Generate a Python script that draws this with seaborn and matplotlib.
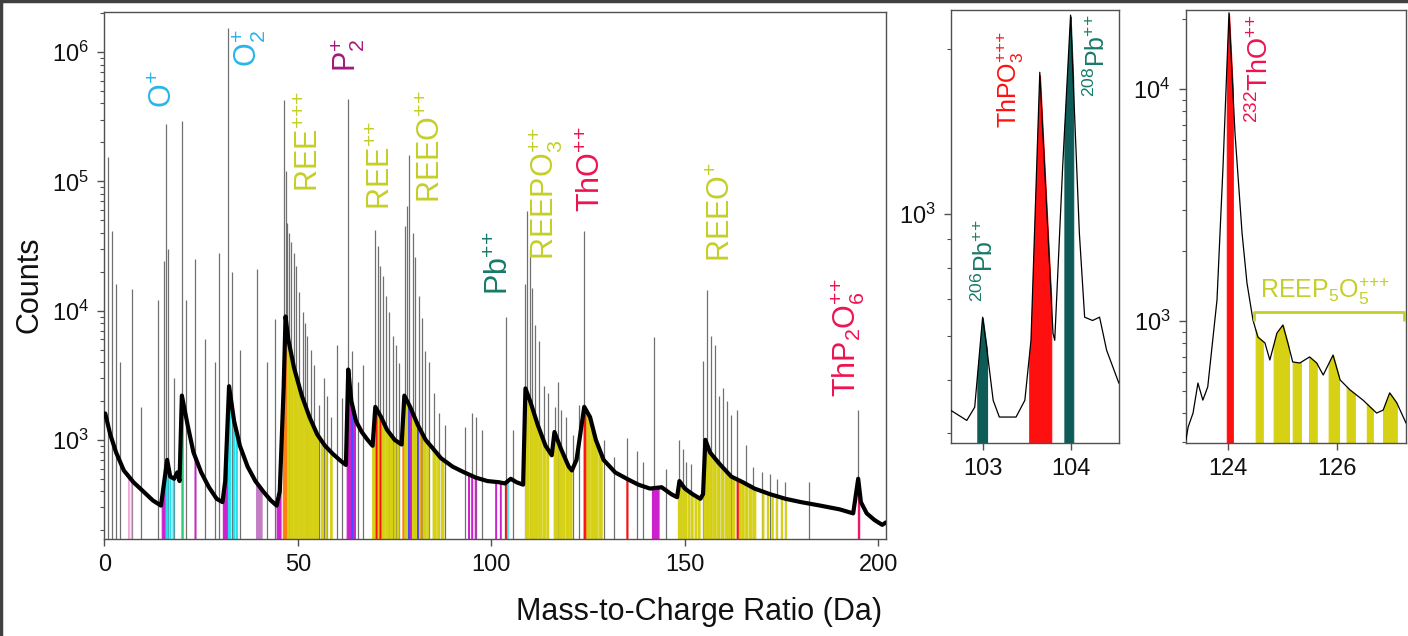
import numpy as np
import pandas as pd
import matplotlib
matplotlib.use("Agg")
import matplotlib.pyplot as plt
from matplotlib.ticker import FixedLocator, FixedFormatter, LogLocator, NullFormatter
from matplotlib.lines import Line2D
import seaborn as sns

# ---------------- data: full spectrum (background trace) ----------------
bg_mz = [0.2, 1.5, 3, 5, 7.5, 10, 12.5, 14.6,
         15.2, 16.2, 17, 18, 18.8, 19.4,
         20.0, 21.5, 23, 25, 27, 29, 30.5,
         31.2, 32.2, 33.5, 35, 37, 39, 41, 43, 44.5,
         45.3, 46.3, 46.8, 47.5, 49, 51, 53, 55, 57, 59, 61, 62.4,
         63.0, 63.8, 65, 66.5, 68, 69.3,
         70.0, 71.5, 73, 75, 76.8,
         77.5, 79, 81, 83, 85, 87, 90, 93, 96, 99, 102, 103.5, 105, 106.5, 108.2,
         108.8, 110, 112, 114, 115.6,
         116.3, 118, 120, 120.8,
         122, 124.0, 125.5, 127, 129, 132, 135, 138, 141, 144, 146.5, 148,
         148.6, 150, 152, 154, 154.7,
         155.3, 156.5, 159, 162, 165, 168, 172, 176, 180, 185, 190, 193.5,
         194.8, 195.5, 197, 199, 201, 202]
bg_counts = [1600, 1100, 800, 580, 470, 400, 340, 310,
             420, 700, 520, 500, 560, 480,
             2200, 1300, 800, 560, 430, 350, 330,
             480, 2600, 1400, 900, 620, 480, 400, 340, 310,
             400, 2500, 9000, 6000, 3600, 2200, 1500, 1100, 900, 780, 690, 640,
             3500, 2000, 1400, 1150, 1000, 900,
             1800, 1500, 1200, 1000, 920,
             2200, 1800, 1300, 1000, 850, 720, 620, 560, 510, 480, 470, 460, 500, 470, 450,
             2500, 2000, 1300, 900, 760,
             1150, 850, 620, 580,
             700, 1800, 1500, 1000, 700, 560, 500, 450, 420, 430, 380, 360,
             480, 420, 380, 350, 380,
             1000, 800, 650, 520, 470, 420, 380, 350, 330, 310, 290, 270,
             500, 330, 270, 240, 220, 230]

# peak apex positions and heights
peak_mz = [0.9, 1.9, 2.9, 4.0, 7.1, 9.5, 13.9, 15.5, 15.9, 16.5, 18.0, 20.0, 21.0, 23.4,
           26.0, 28.5, 29.6, 32.0, 33.0, 35.0, 39.3, 42.0, 44.1,
           46.4, 46.9, 47.3, 47.8, 48.3, 48.9, 49.5, 50.3, 51.2, 51.8, 52.4, 53.3, 54.2,
           55.5, 56.7, 57.5, 58.5, 60.1, 61.4,
           63.0, 64.0, 65.5, 66.9,
           70.0, 70.6, 71.3, 71.9, 72.8, 73.6, 74.5, 75.4, 76.2,
           77.7, 78.3, 78.8, 79.7, 80.3, 81.2, 82.0, 82.9, 83.8, 85.1, 86.5, 88.0,
           93.2, 95.0, 95.9, 97.5, 103.8, 105.5,
           108.7, 109.2, 110.0, 110.6, 111.3, 112.4, 113.5, 114.6, 116.5, 117.3, 118.1,
           119.4, 121.0, 122.6, 124.0,
           129.0, 131.6, 135.0, 137.6, 139.3, 142.0, 145.0,
           148.6, 149.4, 150.4, 151.7, 154.8, 155.8, 156.7, 157.9, 158.9, 159.8, 160.8,
           161.9, 163.4, 165.8, 167.7, 169.9, 172.0, 173.7, 176.0, 182.2, 194.8]
peak_counts = [153000, 41000, 16000, 4000, 14700, 1800, 12000, 24000, 276000, 30000, 3000,
               295000, 12000, 25000,
               6000, 4000, 28000, 1530000, 20000, 5000, 21000, 4000, 8600,
               428000, 120000, 48000, 40000, 34000, 28000, 22000, 14000, 9700, 8000, 6400,
               5000, 3800, 1850, 3000, 2200, 1500, 5400, 2100,
               430000, 4900, 2800, 3800,
               42000, 31500, 22000, 18500, 13000, 9700, 6400, 5400, 3900,
               45000, 65000, 160000, 40000, 26000, 13000, 8800, 4900, 4000, 2300, 1600, 1300,
               1250, 1600, 1500, 1200, 9000, 1200,
               16000, 59000, 30000, 15000, 7700, 5800, 2600, 2300, 1800, 2800, 1700,
               1500, 1100, 1850, 41000,
               1000, 740, 1030, 820, 680, 6200, 600,
               1000, 850, 680, 650, 4100, 14500, 6400, 5400, 2200, 2500, 2000,
               1550, 1700, 920, 620, 560, 540, 500, 470, 470, 1700]

# ranged ions of the full spectrum (lower, upper mass bound)
ranges_ree = [(46.9, 47.6), (47.8, 48.6), (48.8, 49.9), (50.1, 51.3), (51.5, 52.4),
              (52.6, 53.6), (53.8, 55.2), (55.9, 56.5), (57.0, 57.4), (58.3, 58.7),
              (69.2, 70.0), (70.5, 71.0), (71.4, 72.3), (72.6, 73.3), (73.6, 74.3),
              (74.7, 75.2), (75.6, 76.0), (77.3, 78.0), (78.2, 78.9), (79.2, 80.0),
              (80.3, 80.6), (81.0, 81.5), (82.2, 83.0), (83.3, 83.7), (84.8, 85.6),
              (86.0, 86.5), (87.0, 87.6),
              (108.7, 109.6), (109.9, 110.8), (111.0, 111.8), (112.1, 112.9), (113.2, 113.8),
              (114.2, 114.6), (116.1, 117.0), (117.3, 118.0), (118.3, 118.9), (119.3, 119.8),
              (120.1, 120.7),
              (124.5, 125.4), (125.7, 126.5), (126.8, 127.4), (127.7, 128.5),
              (148.2, 149.2), (149.5, 150.3), (150.7, 151.2), (151.6, 152.0), (152.5, 153.0),
              (153.4, 153.8),
              (154.8, 155.7), (156.0, 156.8), (157.1, 157.9), (158.2, 158.9), (159.3, 159.9),
              (160.3, 160.9), (161.2, 161.8), (162.2, 162.8), (163.8, 164.4), (164.6, 165.2),
              (165.6, 166.2), (166.6, 167.2), (167.5, 168.2),
              (170.0, 170.3), (171.2, 171.5), (172.4, 172.7), (173.5, 173.8), (174.8, 175.1),
              (175.9, 176.1)]
ranges_p = [(14.8, 15.6), (23.3, 23.5), (30.6, 31.8), (44.5, 45.5), (62.6, 64.3),
            (64.5, 64.7), (79.0, 79.15), (94.0, 94.2), (94.8, 95.0), (95.7, 95.9),
            (101.0, 101.2), (102.2, 102.4), (141.5, 143.2)]
ranges_po = [(39.2, 40.6)]
ranges_o = [(15.8, 16.3), (16.8, 17.0), (17.6, 17.8), (31.9, 32.5), (33.2, 33.5),
            (33.9, 34.2), (103.9, 104.2)]
ranges_h = [(6.1, 6.25), (6.8, 6.95)]
ranges_oh = [(19.9, 20.2)]
ranges_ca = [(46.1, 46.9), (77.0, 77.2), (81.7, 81.85)]
ranges_th = [(70.1, 70.3), (71.1, 71.3), (103.5, 103.7), (123.85, 124.25),
             (134.9, 135.15), (163.4, 163.65)]
ranges_si = [(63.8, 64.0), (78.5, 78.65), (80.8, 80.95)]
ranges_thp = [(194.75, 195.05)]

# ---------------- data: Pb window ----------------
pb_mz = [102.64, 102.82, 102.91, 103.0, 103.05, 103.12, 103.19, 103.38, 103.48, 103.55,
         103.65, 103.80, 103.82, 103.91, 104.0, 104.10, 104.16, 104.25, 104.33, 104.41, 104.55]
pb_counts = [440, 422, 446, 650, 566, 459, 428, 428, 459, 590,
             1811, 608, 590, 1218, 2300, 924, 650, 641, 650, 566, 493]
pb206_range = (102.94, 103.05)
thpo3_range = (103.53, 103.78)
pb208_range = (103.93, 104.03)

# ---------------- data: ThO window ----------------
tho_mz = [123.23, 123.27, 123.36, 123.45, 123.54, 123.63, 123.80, 123.91, 124.02, 124.13,
          124.26, 124.35, 124.46, 124.55, 124.68, 124.77, 124.90, 125.01, 125.10, 125.19,
          125.32, 125.50, 125.63, 125.75, 125.93, 126.06, 126.24, 126.48, 126.73, 126.85,
          126.97, 127.10, 127.27]
tho_counts = [307, 349, 401, 540, 456, 520, 1233, 4610, 21300, 6460,
              2390, 1458, 1010, 853, 804, 679, 887, 961, 804, 666,
              659, 700, 659, 585, 713, 557, 505, 456, 401, 413,
              490, 444, 363]
tho_range = (123.98, 124.09)
reep5o5_ranges = [(124.51, 124.64), (124.84, 125.12), (125.19, 125.34), (125.49, 125.63),
                  (125.85, 126.04), (126.18, 126.33), (126.55, 126.66), (126.85, 127.10)]
reep5o5_span = (124.48, 127.23)

# ---------------- styling ----------------
sns.set_theme(style="white")
plt.rcParams["font.family"] = ["Liberation Sans", "DejaVu Sans"]
plt.rcParams["mathtext.fontset"] = "custom"
plt.rcParams["mathtext.rm"] = "Liberation Sans"
plt.rcParams["mathtext.it"] = "Liberation Sans:italic"
plt.rcParams["mathtext.bf"] = "Liberation Sans:bold"

C_YEL = "#d6d114"
C_MAG = "#cc22cc"
C_LIL = "#c47cc4"
C_CYA = "#22e0f0"
C_PNK = "#f0a8d8"
C_GRN = "#30cc77"
C_ORA = "#ff8010"
C_RED = "#ff1010"
C_BLU = "#4a4aff"
C_CRM = "#e8186a"
C_TEAL = "#0d5c57"
SPINE = "#505050"

T_CYAN = "#29b5e8"
T_PURP = "#a3197c"
T_REE = "#c4cf28"
T_PB = "#177a68"
T_TH = "#ee1350"

fig = plt.figure(figsize=(14.08, 6.36), dpi=100)
ax1 = fig.add_axes([0.0742, 0.1525, 0.5551, 0.8286])
ax2 = fig.add_axes([0.6754, 0.3035, 0.1193, 0.6808])
ax3 = fig.add_axes([0.8423, 0.3035, 0.1563, 0.6808])


def fill_range(ax, lo, hi, color, mz, counts, floor):
    xs = np.linspace(lo, hi, 40)
    ys = 10 ** np.interp(xs, mz, np.log10(counts))
    ax.fill_between(xs, floor, ys, color=color, lw=0.8, edgecolor=color, zorder=2)


def style_axis(ax):
    for s in ax.spines.values():
        s.set_color(SPINE)
        s.set_linewidth(1.0)
    ax.tick_params(axis="both", which="major", direction="out", length=5, width=1,
                   color=SPINE, labelsize=17, pad=6, bottom=True, left=True,
                   labelcolor="#111111")
    ax.tick_params(axis="y", which="minor", direction="out", length=3, width=0.8,
                   color=SPINE, left=True)
    ax.set_xlabel("")
    ax.set_ylabel("")


def pow_labels(exps):
    return [r"$\mathregular{10^{%d}}$" % e for e in exps]


def ion(body, charge, sub=None, pre=None):
    """Ion label in mathtext: optional isotope prefix, subscript and charge."""
    plus = "".join("{+}" for _ in range(charge))
    pre_s = "{}^{%s}" % pre if pre else ""
    sub_s = "_{%s}" % sub if sub else ""
    return r"$\mathrm{%s%s%s^{%s}}$" % (pre_s, body, sub_s, plus)


# ---------------- full spectrum ----------------
y_floor1 = 171
ax1.set_yscale("log")
ax1.vlines(peak_mz, y_floor1, peak_counts, color="#707070", lw=0.9, zorder=1)
range_groups = [(ranges_ree, C_YEL), (ranges_p, C_MAG), (ranges_po, C_LIL), (ranges_o, C_CYA),
                (ranges_h, C_PNK), (ranges_oh, C_GRN), (ranges_ca, C_ORA), (ranges_th, C_RED),
                (ranges_si, C_BLU), (ranges_thp, C_CRM)]
for group, col in range_groups:
    for lo, hi in group:
        fill_range(ax1, lo, hi, col, bg_mz, bg_counts, y_floor1)
df_full = pd.DataFrame({"mz": bg_mz, "counts": bg_counts})
sns.lineplot(data=df_full, x="mz", y="counts", ax=ax1, color="black", lw=3.0,
             estimator=None, sort=False, zorder=3)
ax1.set_xlim(0, 202)
ax1.set_ylim(y_floor1, 2.04e6)
style_axis(ax1)
ax1.xaxis.set_major_locator(FixedLocator([0, 50, 100, 150, 200]))
ax1.yaxis.set_major_locator(FixedLocator([1e3, 1e4, 1e5, 1e6]))
ax1.yaxis.set_major_formatter(FixedFormatter(pow_labels([3, 4, 5, 6])))
ax1.yaxis.set_minor_locator(LogLocator(base=10, subs=np.arange(2, 10)))
ax1.yaxis.set_minor_formatter(NullFormatter())

labels_full = [
    (15.4, 3.69e5, ion("O", 1), T_CYAN),
    (37.1, 7.66e5, ion("O", 1, sub="2"), T_CYAN),
    (62.7, 7.0e5, ion("P", 1, sub="2"), T_PURP),
    (53.2, 8.26e4, ion("REE", 3), T_REE),
    (71.7, 6.0e4, ion("REE", 2), T_REE),
    (84.7, 6.8e4, ion("REEO", 2), T_REE),
    (102.3, 1.32e4, ion("Pb", 2), T_PB),
    (113.9, 2.46e4, ion("REEPO", 2, sub="3"), T_REE),
    (126.0, 5.79e4, ion("ThO", 2), T_TH),
    (159.7, 2.37e4, ion("REEO", 1), T_REE),
    (192.0, 2.15e3, ion("ThP_{2}O", 2, sub="6"), T_TH),
]
for x, y, s, c in labels_full:
    ax1.text(x, y, s, rotation=90, ha="center", va="bottom", fontsize=22, color=c, zorder=5)

# ---------------- Pb window ----------------
y_floor2 = 384
ax2.set_yscale("log")
for (lo, hi), col in [(pb206_range, C_TEAL), (thpo3_range, C_RED), (pb208_range, C_TEAL)]:
    fill_range(ax2, lo, hi, col, pb_mz, pb_counts, y_floor2)
df_pb = pd.DataFrame({"mz": pb_mz, "counts": pb_counts})
sns.lineplot(data=df_pb, x="mz", y="counts", ax=ax2, color="black", lw=0.9,
             estimator=None, sort=False, zorder=3)
ax2.set_xlim(102.64, 104.55)
ax2.set_ylim(y_floor2, 2350)
style_axis(ax2)
ax2.xaxis.set_major_locator(FixedLocator([103, 104]))
ax2.yaxis.set_major_locator(FixedLocator([1e3]))
ax2.yaxis.set_major_formatter(FixedFormatter(pow_labels([3])))
ax2.yaxis.set_minor_locator(LogLocator(base=10, subs=np.arange(2, 10)))
ax2.yaxis.set_minor_formatter(NullFormatter())
ax2.text(103.02, 692, ion("Pb", 2, pre="206"), rotation=90, ha="center", va="bottom",
         fontsize=18, color=T_PB)
ax2.text(103.32, 1433, ion("ThPO", 3, sub="3"), rotation=90, ha="center", va="bottom",
         fontsize=18, color=C_RED)
ax2.text(104.30, 1630, ion("Pb", 2, pre="208"), rotation=90, ha="center", va="bottom",
         fontsize=18, color=T_PB)

# ---------------- ThO window ----------------
y_floor3 = 298
ax3.set_yscale("log")
fill_range(ax3, tho_range[0], tho_range[1], C_RED, tho_mz, tho_counts, y_floor3)
for lo, hi in reep5o5_ranges:
    fill_range(ax3, lo, hi, C_YEL, tho_mz, tho_counts, y_floor3)
df_tho = pd.DataFrame({"mz": tho_mz, "counts": tho_counts})
sns.lineplot(data=df_tho, x="mz", y="counts", ax=ax3, color="black", lw=0.9,
             estimator=None, sort=False, zorder=3)
ax3.set_xlim(123.23, 127.27)
ax3.set_ylim(y_floor3, 21900)
style_axis(ax3)
ax3.xaxis.set_major_locator(FixedLocator([124, 126]))
ax3.yaxis.set_major_locator(FixedLocator([1e3, 1e4]))
ax3.yaxis.set_major_formatter(FixedFormatter(pow_labels([3, 4])))
ax3.yaxis.set_minor_locator(LogLocator(base=10, subs=np.arange(2, 10)))
ax3.yaxis.set_minor_formatter(NullFormatter())
ax3.text(124.59, 7130, ion("ThO", 2, pre="232"), rotation=90, ha="center", va="bottom",
         fontsize=19.5, color=T_TH)
b0, b1 = reep5o5_span
ax3.plot([b0, b0, b1, b1], [1010, 1094, 1094, 1010], color=T_REE, lw=2, zorder=4)
ax3.text(124.59, 1150, ion("REEP_{5}O", 3, sub="5"), ha="left", va="bottom",
         fontsize=18, color=T_REE)

# ---------------- shared labels and frame ----------------
fig.text(30 / 1408, 1 - 285 / 636, "Counts", rotation=90, ha="center", va="center",
         fontsize=22, color="#111111")
fig.text(699 / 1408, 1 - 612 / 636, "Mass-to-Charge Ratio (Da)", ha="center", va="center",
         fontsize=22, color="#111111")
fig.add_artist(Line2D([0, 1], [0.998, 0.998], transform=fig.transFigure, color="#404040", lw=2.5))
fig.add_artist(Line2D([0.001, 0.001], [0, 1], transform=fig.transFigure, color="#404040", lw=2.5))

fig.savefig("out.png", dpi=100)
